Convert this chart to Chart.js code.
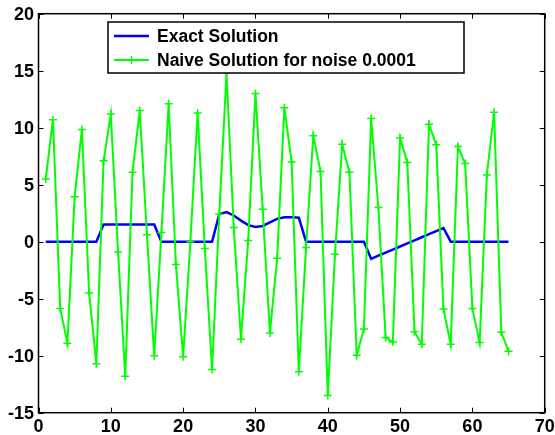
<!DOCTYPE html>
<html>
<head>
<meta charset="utf-8">
<script src="https://cdn.jsdelivr.net/npm/chart.js@4/dist/chart.umd.min.js"></script>
<style>
html,body{margin:0;padding:0;background:#fff;}
#c{display:block;}
</style>
</head>
<body>
<canvas id="c" width="555" height="435"></canvas>
<script>
const xValues = [1,2,3,4,5,6,7,8,9,10,11,12,13,14,15,16,17,18,19,20,21,22,23,24,25,26,27,28,29,30,31,32,33,34,35,36,37,38,39,40,41,42,43,44,45,46,47,48,49,50,51,52,53,54,55,56,57,58,59,60,61,62,63,64,65];
const exactValues = [0,0,0,0,0,0,0,0,
  1.5,1.5,1.5,1.5,1.5,1.5,1.5,1.5,
  0,0,0,0,0,0,0,0,
  2.4,2.6,2.3,1.85,1.45,1.3,1.38,1.7,2.0,2.15,2.15,2.1,
  0,0,0,0,0,0,0,0,0,
  -1.5,-1.23,-0.96,-0.69,-0.42,-0.15,0.12,0.39,0.66,0.93,1.2,
  0,0,0,0,0,0,0,0,0];
const naiveValues = [5.5,10.7,-5.85,-8.9,3.95,9.85,-4.5,-10.7,7.1,11.2,
  -0.9,-11.8,6.1,11.5,0.6,-10.0,0.8,12.1,-2.0,-10.1,
  0.0,11.3,-0.6,-11.2,2.4,14.8,1.25,-8.55,0.1,13.0,
  2.85,-8.0,-1.45,11.75,7.0,-11.4,-0.5,9.3,6.15,-13.5,
  -1.1,8.55,6.1,-9.95,-7.65,10.8,3.0,-8.4,-8.8,9.1,
  6.95,-7.9,-9.0,10.3,8.5,-5.9,-9.0,8.35,6.85,-5.85,
  -8.85,5.85,11.35,-7.95,-9.6];
const seriesLabels = ["Exact Solution", "Naive Solution for noise 0.0001"];
const xTicks = [0,10,20,30,40,50,60,70];
const yTicks = [-15,-10,-5,0,5,10,15,20];

const FONT = '"Liberation Sans", Arial, Helvetica, sans-serif';
const BLUE = '#0000ff';
const GREEN = '#00ff00';

const framePlugin = {
  id: 'frame',
  afterDatasetsDraw(chart) {
    const ctx = chart.ctx, a = chart.chartArea;
    const xs = chart.scales.x, ys = chart.scales.y;
    ctx.save();
    ctx.strokeStyle = '#000';
    ctx.lineWidth = 1.5;
    ctx.strokeRect(a.left, a.top, a.right - a.left, a.bottom - a.top);
    ctx.lineWidth = 1;
    const tl = 5;
    ctx.beginPath();
    xTicks.forEach(v => {
      const p = Math.round(xs.getPixelForValue(v)) + 0.5;
      ctx.moveTo(p, a.bottom); ctx.lineTo(p, a.bottom - tl);
      ctx.moveTo(p, a.top); ctx.lineTo(p, a.top + tl);
    });
    yTicks.forEach(v => {
      const p = Math.round(ys.getPixelForValue(v)) + 0.5;
      ctx.moveTo(a.left, p); ctx.lineTo(a.left + tl, p);
      ctx.moveTo(a.right, p); ctx.lineTo(a.right - tl, p);
    });
    ctx.stroke();

    // tick labels
    ctx.fillStyle = '#000';
    ctx.font = 'bold 18px ' + FONT;
    ctx.textAlign = 'center';
    ctx.textBaseline = 'alphabetic';
    xTicks.forEach(v => {
      ctx.fillText(String(v), xs.getPixelForValue(v), 432);
    });
    ctx.textAlign = 'right';
    ctx.textBaseline = 'middle';
    yTicks.forEach(v => {
      ctx.fillText(String(v), 34, ys.getPixelForValue(v) + 1);
    });

    // legend box
    const bx = 108, by = 22, bw = 356, bh = 51;
    ctx.fillStyle = '#fff';
    ctx.fillRect(bx, by, bw, bh);
    ctx.lineWidth = 1.5;
    ctx.strokeStyle = '#000';
    ctx.strokeRect(bx, by, bw, bh);
    const rows = [36, 60];
    const colors = [BLUE, GREEN];
    ctx.font = 'bold 17.5px ' + FONT;
    ctx.textBaseline = 'middle';
    ctx.textAlign = 'left';
    rows.forEach((y, i) => {
      ctx.strokeStyle = colors[i];
      ctx.lineWidth = i === 0 ? 2.5 : 2;
      ctx.beginPath();
      ctx.moveTo(114, y); ctx.lineTo(149, y);
      ctx.stroke();
      if (i === 1) {
        ctx.lineWidth = 1.5;
        ctx.beginPath();
        ctx.moveTo(131.5, y - 4); ctx.lineTo(131.5, y + 4);
        ctx.moveTo(127.5, y); ctx.lineTo(135.5, y);
        ctx.stroke();
      }
      ctx.fillStyle = '#000';
      ctx.fillText(seriesLabels[i], 157, y + 1);
    });
    ctx.restore();
  }
};

new Chart(document.getElementById('c'), {
  type: 'line',
  data: {
    datasets: [
      {
        label: seriesLabels[0],
        data: xValues.map((x, i) => ({x: x, y: exactValues[i]})),
        borderColor: BLUE,
        borderWidth: 2.5,
        pointRadius: 0,
        tension: 0,
        order: 2
      },
      {
        label: seriesLabels[1],
        data: xValues.map((x, i) => ({x: x, y: naiveValues[i]})),
        borderColor: GREEN,
        backgroundColor: GREEN,
        borderWidth: 2,
        pointStyle: 'cross',
        pointRadius: 4,
        pointBorderWidth: 1.5,
        pointBorderColor: GREEN,
        tension: 0,
        order: 1
      }
    ]
  },
  options: {
    responsive: false,
    animation: false,
    devicePixelRatio: 1,
    layout: {padding: {left: 38.5, right: 10.3, top: 13.7, bottom: 22.3}},
    plugins: {legend: {display: false}, tooltip: {enabled: false}},
    scales: {
      x: {
        type: 'linear', min: 0, max: 70, display: false,
        afterBuildTicks: s => { s.ticks = xTicks.map(v => ({value: v})); }
      },
      y: {
        type: 'linear', min: -15, max: 20, display: false,
        afterBuildTicks: s => { s.ticks = yTicks.map(v => ({value: v})); }
      }
    }
  },
  plugins: [framePlugin]
});
</script>
</body>
</html>
